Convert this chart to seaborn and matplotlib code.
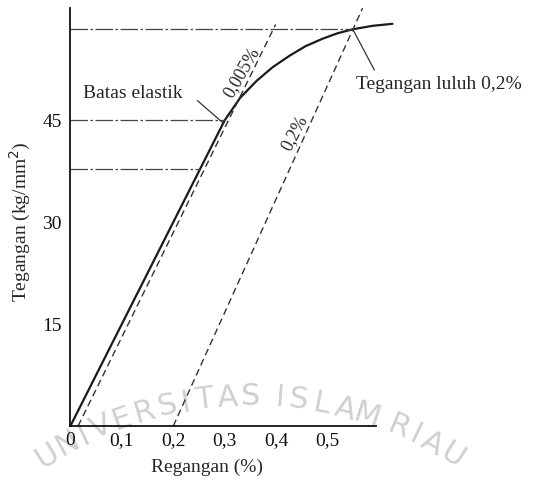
import numpy as np
import pandas as pd
import matplotlib.pyplot as plt
import seaborn as sns

# kurva tegangan - regangan
strain = [0.0, 0.15, 0.30, 0.33, 0.362, 0.393, 0.426, 0.457, 0.49, 0.519, 0.549, 0.587, 0.626]
stress = [0.0, 22.5, 45.0, 48.3, 50.8, 52.8, 54.5, 55.9, 57.0, 57.8, 58.4, 58.9, 59.2]

# garis offset 0,005% dan 0,2%
off0005_x = [0.015, 0.399]
off0005_y = [0.0, 59.1]
off02_x = [0.200, 0.568]
off02_y = [0.0, 61.5]

# garis bantu horizontal
guide_y = [58.4, 45.0, 37.9]
guide_xend = [0.549, 0.300, 0.253]

xticks = [0, 0.1, 0.2, 0.3, 0.4, 0.5]
xticklabels = ["0", "0,1", "0,2", "0,3", "0,4", "0,5"]
yticks = [15, 30, 45]
yminor = [7.5, 22.5, 37.5, 52.5]

sns.set_theme(style="white")
plt.rcParams['font.family'] = ['Liberation Serif', 'DejaVu Serif']

fig = plt.figure(figsize=(5.37, 4.82), dpi=100)
ax = fig.add_axes([0.131, 0.116, 0.570, 0.867])

# watermark (huruf di sepanjang busur)
wm = "UNIVERSITAS ISLAM RIAU"
w = np.array([0.45 if c == ' ' else (0.55 if c == 'I' else 1.0) for c in wm])
pos = (np.cumsum(w) - w / 2) / w.sum()
cx, cy, r = 250, -295, 380
angs = 124 - pos * (124 - 56)
for ch, a in zip(wm, angs):
    px = cx + r * np.cos(np.radians(a))
    py = cy + r * np.sin(np.radians(a))
    fig.text(px / 537, py / 482, ch, fontsize=22, color='#cfd1cf', ha='center', va='center',
             rotation=a - 90, family='DejaVu Sans', zorder=-1)

sns.lineplot(x=strain, y=stress, sort=False, color='#1a1a1a', lw=1.6, ax=ax)
sns.lineplot(x=off0005_x, y=off0005_y, sort=False, color='#333333', lw=1.0, ax=ax,
             linestyle=(0, (5, 3)))
sns.lineplot(x=off02_x, y=off02_y, sort=False, color='#333333', lw=1.0, ax=ax,
             linestyle=(0, (5, 3)))
for ln in ax.lines:
    ln.set_clip_on(False)
for yv, xe in zip(guide_y, guide_xend):
    ax.plot([0, xe], [yv, yv], color='#444444', lw=0.9, linestyle=(0, (14, 2, 2, 2)), clip_on=False)

# anotasi
ax.text(0.024, 49.0, "Batas elastik", fontsize=14, va='center', ha='left')
ax.plot([0.247, 0.297], [47.9, 44.6], color='#333333', lw=0.9)
ax.text(0.333, 52.0, "0,005%", fontsize=13, rotation=60, ha='center', va='center')
ax.text(0.436, 43.2, "0,2%", fontsize=13, rotation=62, ha='center', va='center')
ax.text(0.556, 50.2, "Tegangan luluh 0,2%", fontsize=14, va='center', ha='left', clip_on=False)
ax.plot([0.549, 0.591], [58.4, 52.4], color='#333333', lw=0.9, clip_on=False)

ax.set_xlim(0, 0.595)
ax.set_ylim(0, 61.5)
sns.despine(ax=ax)
for s in ['left', 'bottom']:
    ax.spines[s].set_color('#111111')
    ax.spines[s].set_linewidth(1.3)

ax.set_xticks(xticks)
ax.set_xticklabels(xticklabels, fontsize=14)
ax.set_yticks(yticks)
ax.set_yticklabels([str(v) for v in yticks], fontsize=14)
ax.set_yticks(yminor, minor=True)
ax.tick_params(axis='x', direction='in', length=4, width=0.9, pad=4, colors='#111111')
ax.tick_params(axis='y', which='both', direction='in', length=6, width=0.9, pad=6, colors='#111111')

ax.set_ylabel("Tegangan (kg/mm$^2$)", fontsize=14)
ax.yaxis.set_label_coords(-0.121, 0.488)
ax.set_xlabel("Regangan (%)", fontsize=14)
ax.xaxis.set_label_coords(0.448, -0.077)
ax.patch.set_alpha(0)

fig.savefig("out.png", dpi=100)
